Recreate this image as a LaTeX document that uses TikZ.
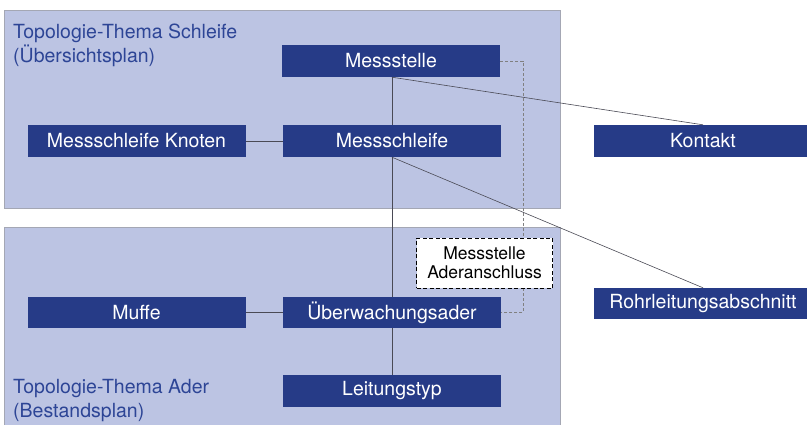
\documentclass[tikz,border=0pt]{standalone}
\usepackage{fontspec}
\setmainfont{TeX Gyre Heros}
\definecolor{panelfill}{HTML}{BCC4E3}
\definecolor{panelline}{HTML}{A4A7B4}
\definecolor{boxblue}{HTML}{263B87}
\definecolor{titleblue}{HTML}{2D4596}
\definecolor{linegrey}{HTML}{4A4A55}
\begin{document}
\begin{tikzpicture}[x=1pt,y=-1pt,
  panel/.style={fill=panelfill,draw=panelline,line width=0.8pt},
  bluebox/.style={fill=boxblue,text=white,minimum width=218pt,minimum height=32pt,inner sep=0pt,font=\fontsize{19.5}{22}\selectfont},
  title/.style={text=titleblue,align=left,anchor=north west,inner sep=0pt,font=\fontsize{19.5}{24}\selectfont},
  conn/.style={draw=linegrey,line width=0.6pt},
  dashconn/.style={draw=gray,line width=0.6pt,dash pattern=on 3pt off 2pt},
  whitebox/.style={fill=white,draw=black,line width=0.9pt,dash pattern=on 4pt off 2.5pt,minimum width=136pt,minimum height=50pt,inner sep=0pt,align=center,font=\fontsize{17.5}{19}\selectfont}]
\useasboundingbox (0,0) rectangle (807,424);
\fill[white] (0,0) rectangle (807,424);
\draw[panel] (4,10) rectangle (560,208);
\draw[panel] (4,227) rectangle (560,432);
\node[title] (t1) at (13,24) {Topologie-Thema Schleife\\(Übersichtsplan)};
\node[title] (t2) at (13,379) {Topologie-Thema Ader\\(Bestandsplan)};
\node[bluebox] (mst) at (391,61) {Messstelle};
\node[bluebox] (msl) at (392,141) {Messschleife};
\node[bluebox] (knot) at (136.5,141) {Messschleife Knoten};
\node[bluebox] (kon) at (703,141) {Kontakt};
\node[bluebox,minimum height=31pt] (muf) at (136.5,312.5) {Muffe};
\node[bluebox,minimum height=31pt] (ueb) at (392,312.5) {Überwachungsader};
\node[bluebox] (lt) at (392,391) {Leitungstyp};
\node[bluebox,minimum height=31pt] (rohr) at (703,303.5) {Rohrleitungsabschnitt};
\coordinate (mstb) at ([xshift=1pt]mst.south);
\draw[conn] (mstb) -- (kon.north);
\draw[conn] (mstb) -- (msl.north);
\draw[conn] (msl.south) -- (rohr.north);
\draw[conn] (msl.south) -- (ueb.north);
\draw[conn] (ueb.south) -- (lt.north);
\draw[conn] (knot.east) -- (msl.west);
\draw[conn] (muf.east) -- (ueb.west);
\coordinate (dc) at (523,61);
\draw[dashconn] (mst.east) -- (dc) |- (ueb.east);
\node[whitebox] (ada) at (484.5,263) {Messstelle\\Aderanschluss};
\end{tikzpicture}
\end{document}
